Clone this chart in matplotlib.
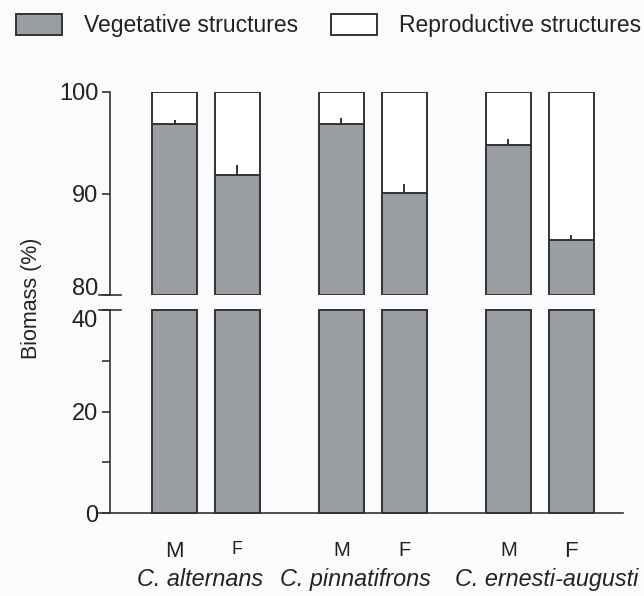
import matplotlib

matplotlib.use("Agg")

import matplotlib.pyplot as plt
import matplotlib.transforms as mtransforms
from matplotlib.patches import Patch
import numpy as np

plt.rcParams["font.family"] = ["Liberation Sans", "DejaVu Sans"]

# data
species = ["C. alternans", "C. pinnatifrons", "C. ernesti-augusti"]
sexes = ["M", "F"]
vegetative = [96.85, 91.8, 96.85, 90.0, 94.75, 85.4]   # % biomass, order M, F per species
veg_err = [0.35, 1.05, 0.55, 0.9, 0.6, 0.5]
sex_label_sizes = [16, 13, 14.5, 14.5, 14.5, 16]
species_label_x = [0.40, 2.88, 5.91]

GROUP_GAP = 2.65
BAR_WIDTH = 0.714
GREY = "#9a9ea3"
EDGE = "#333333"
TEXT = "#222222"
BG = "#fafbfc"

x = np.array([g * GROUP_GAP + s for g in range(len(species)) for s in range(len(sexes))])
veg = np.array(vegetative)
err = np.array(veg_err)

W, H = 644, 596
fig = plt.figure(figsize=(W / 100, H / 100), dpi=100)
fig.patch.set_facecolor(BG)

left, right = 110 / W, 623 / W
ax_top = fig.add_axes([left, 1 - 295 / H, right - left, 203 / H])
ax_bot = fig.add_axes([left, 1 - 513 / H, right - left, 203 / H])

for ax in (ax_top, ax_bot):
    ax.set_facecolor(BG)
    ax.set_xlim(-1.024, 7.12)
    for side in ("top", "right"):
        ax.spines[side].set_visible(False)
    for spine in ax.spines.values():
        spine.set_color(EDGE)
        spine.set_linewidth(1.2)
    ax.tick_params(axis="y", direction="out", length=5.5, width=1.2, color=EDGE,
                   labelsize=17, labelcolor=TEXT, pad=3)
    ax.tick_params(axis="y", which="minor", direction="out", length=5.5, width=1.2, color=EDGE)

# upper panel: 80-100
ax_top.bar(x, veg - 80, bottom=80, width=BAR_WIDTH, color=GREY, edgecolor=EDGE, linewidth=1.4)
ax_top.bar(x, 100 - veg, bottom=veg, width=BAR_WIDTH, color="white", edgecolor=EDGE, linewidth=1.4)
ax_top.vlines(x, veg, veg + err, color=EDGE, linewidth=1.4)
ax_top.set_ylim(80, 100)
ax_top.set_yticks([80, 90, 100])
ax_top.spines["bottom"].set_visible(False)
ax_top.set_xticks([])
ax_top.get_yticklabels()[0].set_verticalalignment("baseline")

# lower panel: 0-40
ax_bot.bar(x, np.minimum(veg, 40), width=BAR_WIDTH, color=GREY, edgecolor=EDGE,
           linewidth=1.4, clip_on=False)
ax_bot.set_ylim(0, 40)
ax_bot.set_yticks([0, 20, 40])
ax_bot.set_yticks([10, 30], minor=True)
ax_bot.get_yticklabels()[-1].set_verticalalignment("top")
ax_bot.set_xticks(x)
ax_bot.set_xticklabels(sexes * len(species))
ax_bot.tick_params(axis="x", length=0, pad=20, labelcolor=TEXT)
for lbl, size in zip(ax_bot.get_xticklabels(), sex_label_sizes):
    lbl.set_fontsize(size)

trans = mtransforms.blended_transform_factory(ax_bot.transData, ax_bot.transAxes)
for name, sx in zip(species, species_label_x):
    ax_bot.text(sx, -0.33, name, transform=trans, ha="center", va="center",
                fontsize=16.8, style="italic", color=TEXT)

# axis break marks and extended zero line
ext = 11 / 513
ax_top.plot([-ext, ext], [0, 0], transform=ax_top.transAxes, color=EDGE, lw=1.2, clip_on=False)
ax_bot.plot([-ext, ext], [1, 1], transform=ax_bot.transAxes, color=EDGE, lw=1.2, clip_on=False)
ax_bot.plot([-ext, 0], [0, 0], transform=ax_bot.transAxes, color=EDGE, lw=1.2, clip_on=False)

fig.text(31 / W, 1 - 298 / H, "Biomass (%)", rotation=90, ha="center", va="center",
         fontsize=15.5, color=TEXT)

handles = [
    Patch(facecolor=GREY, edgecolor=EDGE, linewidth=1.4, label="Vegetative structures"),
    Patch(facecolor="white", edgecolor=EDGE, linewidth=1.4, label="Reproductive structures"),
]
fig.legend(handles=handles, loc="center left", bbox_to_anchor=(16 / W, 1 - 25.5 / H), ncol=2,
           frameon=False, fontsize=16.5, handlelength=2.0, handleheight=1.09,
           handletextpad=0.96, columnspacing=1.44, borderpad=0, borderaxespad=0,
           labelcolor=TEXT)

fig.savefig("out.png", dpi=100, facecolor=BG)
